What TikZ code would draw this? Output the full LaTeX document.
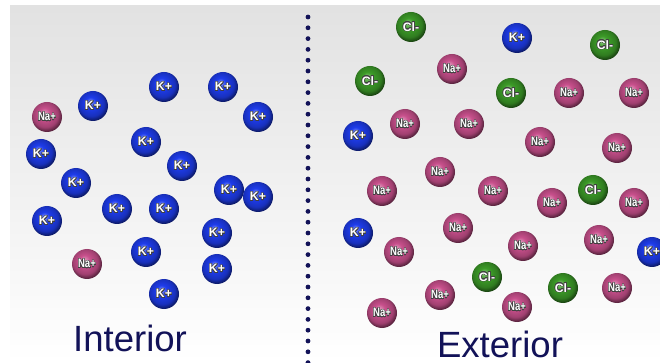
\documentclass[tikz,border=0pt]{standalone}
\usepackage{fontspec}
\setmainfont{Liberation Sans}
\setsansfont{Liberation Sans}
\newfontfamily\narrowsans[FakeStretch=0.78]{Liberation Sans}
\usepackage{contour}
\contourlength{0.4pt}
\definecolor{navyink}{RGB}{18,18,88}
\definecolor{kblue}{RGB}{30,60,235}
\definecolor{napink}{RGB}{200,80,140}
\definecolor{clgreen}{RGB}{60,155,40}
\definecolor{bgtop}{RGB}{226,226,226}
\colorlet{ionc}{kblue}
\pgfdeclareradialshading[ionc]{ionball}{\pgfqpoint{-5bp}{7bp}}{%
  color(0bp)=(ionc!55!white); color(9bp)=(ionc);
  color(21bp)=(ionc!80!black); color(27bp)=(ionc!45!black);
  color(50bp)=(ionc!45!black)}
\begin{document}
\begin{tikzpicture}[x=0.75pt,y=-0.75pt,
  ion/.style={circle,minimum size=22.5pt,inner sep=0pt,text=white,shading=ionball,
    font=\sffamily\bfseries\fontsize{9.2}{10}\selectfont},
  kion/.style={/utils/exec=\colorlet{ionc}{kblue},ion},
  naion/.style={/utils/exec=\colorlet{ionc}{napink},ion,
    font=\narrowsans\bfseries\fontsize{9.2}{10}\selectfont},
  clion/.style={/utils/exec=\colorlet{ionc}{clgreen},ion},
  side/.style={text=navyink,font=\fontsize{27.4}{30}\selectfont}]
\clip (0,0) rectangle (660,363);
\fill[white] (0,0) rectangle (660,363);
\shade[top color=bgtop,bottom color=white] (10,6) rectangle (660,363);
\foreach \i in {0,...,32}
  \fill[navyink] (308,17+10.8*\i) circle (2.4);
\foreach \x/\y [count=\i] in {93/106,164/87,223/87,258/117,41/154,146/142,182/166,76/183,229/190,258/197,47/221,117/209,164/209,217/233,146/252,217/269,164/294}
  \node[kion] (kin\i) at (\x,\y) {\contour{black!75}{K+}};
\foreach \x/\y [count=\i] in {47/117,87/264}
  \node[naion] (nain\i) at (\x,\y) {\contour{black!75}{Na+}};
\foreach \x/\y [count=\i] in {517/38,358/136,358/233,652/252}
  \node[kion] (kout\i) at (\x,\y) {\contour{black!75}{K+}};
\foreach \x/\y [count=\i] in {411/27,605/45,370/81,511/93,593/190,487/277,563/288}
  \node[clion] (clout\i) at (\x,\y) {\contour{black!75}{Cl-}};
\foreach \x/\y [count=\i] in {452/69,569/93,634/93,405/124,469/124,540/142,617/148,440/172,382/191,493/191,552/203,634/203,458/228,399/252,523/246,599/240,617/288,440/295,517/307,382/313}
  \node[naion] (naout\i) at (\x,\y) {\contour{black!75}{Na+}};
\node[side] (interior) at (130,338) {Interior};
\node[side] (exterior) at (500,344) {Exterior};
\end{tikzpicture}
\end{document}
